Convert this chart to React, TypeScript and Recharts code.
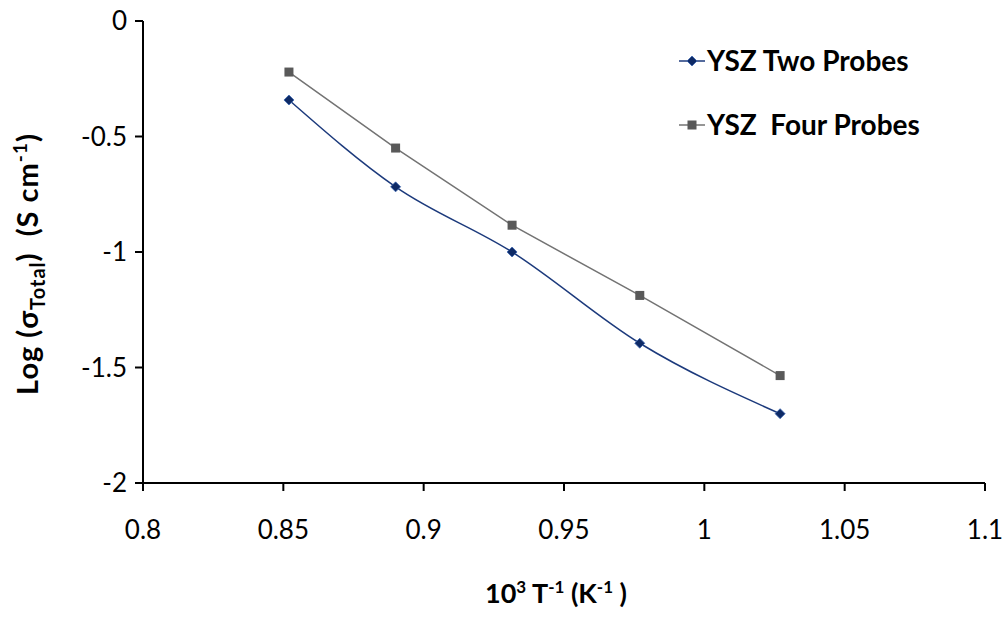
import { LineChart, Line, XAxis, YAxis, Legend, Label } from 'recharts';

const invT = [0.852, 0.89, 0.9315, 0.977, 1.027];
const twoProbes = [-0.342, -0.718, -1.0, -1.395, -1.7];
const fourProbes = [-0.221, -0.55, -0.884, -1.188, -1.535];
const xTicks = [0.8, 0.85, 0.9, 0.95, 1, 1.05, 1.1];
const yTicks = [0, -0.5, -1, -1.5, -2];

const rows = invT.map((x, i) => ({ x, two: twoProbes[i], four: fourProbes[i] }));

const FONT = 'Lato, "Open Sans", sans-serif';
const NAVY = '#1c3a7c';
const NAVY_DOT = '#0e2a66';
const GREY = '#737373';
const GREY_DOT = '#595959';

const fmt = (v: number) => String(Number(v.toFixed(2)));

function Diamond(props: any) {
  const { cx, cy, index } = props;
  if (cx == null || cy == null) return null;
  const r = 5;
  return (
    <path
      key={`d-${index}`}
      d={`M${cx},${cy - r}L${cx + r},${cy}L${cx},${cy + r}L${cx - r},${cy}Z`}
      fill={NAVY_DOT}
      stroke="#3a64b0"
      strokeWidth={0.8}
    />
  );
}

function Square(props: any) {
  const { cx, cy, index } = props;
  if (cx == null || cy == null) return null;
  return <rect key={`s-${index}`} x={cx - 4.5} y={cy - 4.5} width={9} height={9} fill={GREY_DOT} />;
}

function LegendBox() {
  const items = [
    { label: 'YSZ Two Probes', color: NAVY, mark: 'd' },
    { label: 'YSZ\u00a0\u00a0Four Probes', color: GREY, mark: 's' },
  ];
  return (
    <svg width={300} height={110} style={{ display: 'block' }}>
      {items.map((it, i) => {
        const cy = 22 + i * 64;
        return (
          <g key={it.label}>
            <line x1={0} x2={26} y1={cy} y2={cy} stroke={it.color} strokeWidth={1.5} />
            {it.mark === 'd' ? (
              <Diamond cx={13} cy={cy} index={99} />
            ) : (
              <Square cx={13} cy={cy} index={99} />
            )}
            <text x={28} y={cy} dy="0.36em" fontFamily={FONT} fontWeight="bold" fontSize={28} fill="#000">
              {it.label}
            </text>
          </g>
        );
      })}
    </svg>
  );
}

export default function App() {
  return (
    <div style={{ position: 'absolute', left: 0, top: 0, background: '#fff' }}>
      <LineChart
        width={1005}
        height={617}
        data={rows}
        margin={{ top: 21, right: 20, left: 0, bottom: 0 }}
        style={{ fontFamily: FONT }}
      >
        <XAxis
          dataKey="x"
          type="number"
          domain={[0.8, 1.1]}
          ticks={xTicks}
          tickFormatter={fmt}
          height={134}
          stroke="#000"
          strokeWidth={2}
          tickSize={8}
          tickMargin={30}
          tick={{ fontSize: 26, fill: '#000', fontFamily: FONT }}
          allowDataOverflow
        >
          <Label
            content={() => (
              <text x={556} y={603} textAnchor="middle" fontFamily={FONT} fontWeight="bold" fontSize={27} fill="#000">
                10<tspan dy={-10} fontSize={17}>3</tspan>
                <tspan dy={10}> T</tspan>
                <tspan dy={-10} fontSize={17}>-1</tspan>
                <tspan dy={10}> (K</tspan>
                <tspan dy={-10} fontSize={17}>-1</tspan>
                <tspan dy={10}> )</tspan>
              </text>
            )}
          />
        </XAxis>
        <YAxis
          type="number"
          domain={[-2, 0]}
          ticks={yTicks}
          tickFormatter={fmt}
          width={143}
          stroke="#000"
          strokeWidth={2}
          tickSize={8}
          tickMargin={8}
          tick={{ fontSize: 26, fill: '#000', fontFamily: FONT }}
        >
          <Label
            content={() => (
              <text
                x={0}
                y={0}
                transform="translate(38,264) rotate(-90)"
                textAnchor="middle"
                fontFamily={FONT}
                fontWeight="bold"
                fontSize={29}
                letterSpacing={1}
                fill="#000"
              >
                Log (σ<tspan dy={7} fontSize={20}>Total</tspan>
                <tspan dy={-7}>{')\u00a0\u00a0(S cm'}</tspan>
                <tspan dy={-11} fontSize={19}>-1</tspan>
                <tspan dy={11}>)</tspan>
              </text>
            )}
          />
        </YAxis>
        <Legend
          layout="vertical"
          verticalAlign="middle"
          align="center"
          wrapperStyle={{ position: 'absolute', top: 39, left: 679, width: 300, height: 110 }}
          content={() => <LegendBox />}
        />
        <Line
          dataKey="four"
          type="linear"
          stroke={GREY}
          strokeWidth={1.5}
          dot={Square}
          activeDot={false}
          isAnimationActive={false}
        />
        <Line
          dataKey="two"
          type="monotone"
          stroke={NAVY}
          strokeWidth={1.5}
          dot={Diamond}
          activeDot={false}
          isAnimationActive={false}
        />
      </LineChart>
    </div>
  );
}
